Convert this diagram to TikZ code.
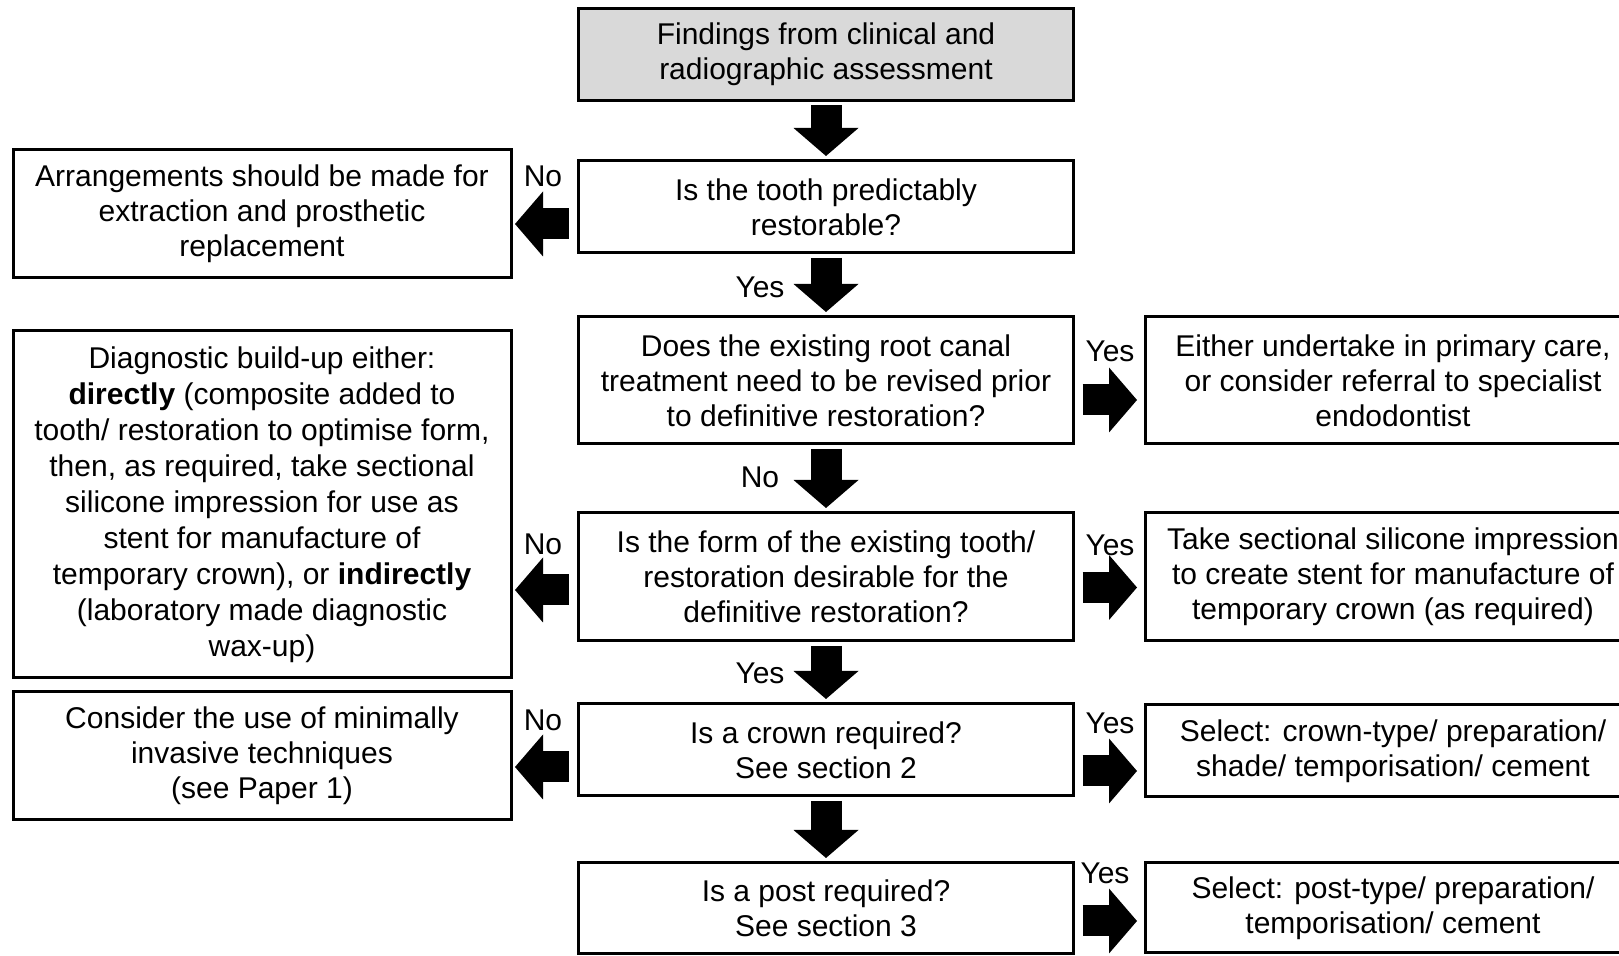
\documentclass[tikz,border=0pt]{standalone}
\usepackage{fontspec}
\setmainfont{Liberation Sans}
\usetikzlibrary{arrows.meta}
\definecolor{G1}{HTML}{D9D9D9}

\begin{document}
\begin{tikzpicture}[x=0.5pt,y=-0.5pt]
\tikzstyle{b} = [draw,line width=1.5pt,inner sep=0pt,outer sep=0pt,align=center,font=\fontsize{15}{17.5}\selectfont]
\tikzstyle{q} = [b,minimum width=247.5pt]
\tikzstyle{l} = [b,minimum width=249pt]
\tikzstyle{r} = [b,minimum width=248pt]
\tikzstyle{t} = [inner sep=0pt,font=\fontsize{15}{17.5}\selectfont]
\tikzstyle{a} = [line width=15.5pt,-{Triangle[width=32.5pt,length=14pt,line width'=0pt]}]
\def\dn{-8.5pt}
\clip (0,0) rectangle (1619,956);
% middle column
\node[q,fill=G1,minimum height=46pt] (find) at (826,54.5) {Findings from clinical and\\radiographic assessment};
\node[q,minimum height=46pt] (restor) at (826,207) {Is the tooth predictably\\restorable?};
\node[q,minimum height=63.5pt] (revise) at (826,380.5) {Does the existing root canal\\treatment need to be revised prior\\to definitive restoration?};
\node[q,minimum height=64pt] (form) at (826,577) {Is the form of the existing tooth/\\restoration desirable for the\\definitive restoration?};
\node[q,minimum height=46pt] (crown) at (826,750) {Is a crown required?\\See section 2};
\node[q,minimum height=45.5pt] (post) at (826,908.5) {Is a post required?\\See section 3};
% left column
\node[l,minimum height=64pt] (extract) at (262,213.5) {Arrangements should be made for\\extraction and prosthetic\\replacement};
\node[l,minimum height=173.5pt,font=\fontsize{15}{18}\selectfont] (buildup) at (262,504.5) {Diagnostic build-up either:\\\textbf{directly} (composite added to\\tooth/ restoration to optimise form,\\then, as required, take sectional\\silicone impression for use as\\stent for manufacture of\\temporary crown), or \textbf{indirectly}\\(laboratory made diagnostic\\wax-up)};
\node[l,minimum height=64pt] (minimal) at (262,756) {Consider the use of minimally\\invasive techniques\\(see Paper 1)};
% right column
\node[r,minimum height=63.5pt] (endo) at (1393,380.5) {Either undertake in primary care,\\or consider referral to specialist\\endodontist};
\node[r,minimum height=64pt] (stent) at (1393,577) {Take sectional silicone impression\\to create stent for manufacture of\\temporary crown (as required)};
\node[r,minimum height=46pt] (crownsel) at (1393,751) {Select: crown-type/ preparation/\\shade/ temporisation/ cement};
\node[r,minimum height=45pt] (postsel) at (1393,908) {Select: post-type/ preparation/\\temporisation/ cement};
% labels
\node[t] (no1) at (543,176) {No};
\node[t] (yes1) at (760,287) {Yes};
\node[t] (no2) at (760,477) {No};
\node[t] (no3) at (543,544) {No};
\node[t] (yes2) at (760,673) {Yes};
\node[t] (no4) at (543,720) {No};
\node[t] (yes3) at (1110,351) {Yes};
\node[t] (yes4) at (1110,545) {Yes};
\node[t] (yes5) at (1110,723) {Yes};
\node[t] (yes6) at (1105,873) {Yes};
% arrows
\path[a,shorten <=2.5pt,shorten >=2.5pt]
(find) edge (restor)
(restor) edge (revise)
(revise) edge (form)
(form) edge (crown)
(crown) edge (post);
\path[a,shorten <=5pt,shorten >=2pt]
([yshift=\dn]restor.west) edge ([yshift=\dn]restor.west -| extract.east)
([yshift=-6.5pt]form.west) edge ([yshift=-6.5pt]form.west -| buildup.east)
([yshift=\dn]crown.west) edge ([yshift=\dn]crown.west -| minimal.east);
\path[a,shorten <=4.5pt,shorten >=4pt]
([yshift=-9.75pt]revise.east) edge ([yshift=-9.75pt]revise.east -| endo.west)
([yshift=-5.25pt]form.east) edge ([yshift=-5.25pt]form.east -| stent.west)
([yshift=-10.5pt]crown.east) edge ([yshift=-10.5pt]crown.east -| crownsel.west)
([yshift=-6.25pt]post.east) edge ([yshift=-6.25pt]post.east -| postsel.west);
\end{tikzpicture}
\end{document}
